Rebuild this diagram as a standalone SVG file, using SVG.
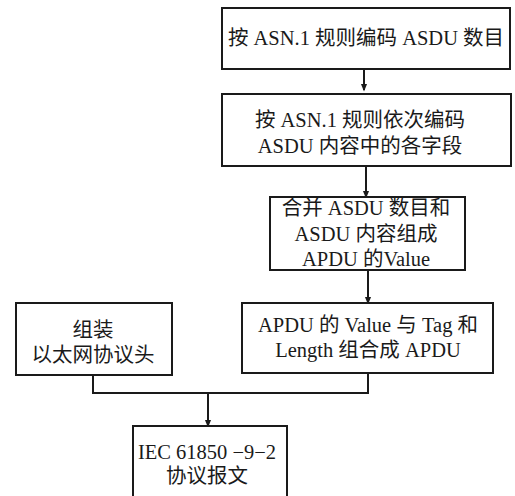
<svg xmlns="http://www.w3.org/2000/svg" width="515" height="496" viewBox="0 0 515 496">
<style>
.box{fill:#fff;stroke:#1a1a1a;stroke-width:2}
.t{font-family:"Liberation Serif","Noto Sans CJK SC",serif;font-size:20.5px;fill:#1a1a1a;text-anchor:middle}
.c{fill:none;stroke:#1a1a1a;stroke-width:2}
</style>
<defs>
<marker id="ah" markerWidth="8" markerHeight="10" refX="8" refY="4" orient="auto" markerUnits="userSpaceOnUse" viewBox="0 0 10 8">
<path d="M0,0 L10,4 L0,8 Z" fill="#1a1a1a"/>
</marker>
</defs>
<rect width="515" height="496" fill="#fff"/>
<g id="connectors">
<path class="c" d="M364,69 V90" marker-end="url(#ah)"/>
<path class="c" d="M366,166 V197" marker-end="url(#ah)"/>
<path class="c" d="M368,270 V303" marker-end="url(#ah)"/>
<path class="c" d="M93,375 V393 H368 V373"/>
<path class="c" d="M208,393 V426" marker-end="url(#ah)"/>
</g>
<g id="n1">
<rect class="box" x="222" y="8" width="288" height="61"/>
<text class="t" x="366" y="45">按 ASN.1 规则编码 ASDU 数目</text>
</g>
<g id="n2">
<rect class="box" x="222" y="94" width="289" height="72"/>
<text class="t" x="360" y="127">按 ASN.1 规则依次编码</text>
<text class="t" x="360" y="153">ASDU 内容中的各字段</text>
</g>
<g id="n3">
<rect class="box" x="270" y="197" width="195" height="73"/>
<text class="t" x="366" y="215">合并 ASDU 数目和</text>
<text class="t" x="366" y="241">ASDU 内容组成</text>
<text class="t" x="366" y="266">APDU 的Value</text>
</g>
<g id="n4">
<rect class="box" x="242" y="303" width="251" height="70"/>
<text class="t" x="368" y="332">APDU 的 Value 与 Tag 和</text>
<text class="t" x="368" y="357">Length 组合成 APDU</text>
</g>
<g id="n5">
<rect class="box" x="16" y="303" width="156" height="72"/>
<text class="t" x="93" y="337">组装</text>
<text class="t" x="93" y="362">以太网协议头</text>
</g>
<g id="n6">
<rect class="box" x="133" y="426" width="154" height="80"/>
<text class="t" x="207" y="459">IEC 61850 −9−2</text>
<text class="t" x="207" y="483">协议报文</text>
</g>
</svg>
